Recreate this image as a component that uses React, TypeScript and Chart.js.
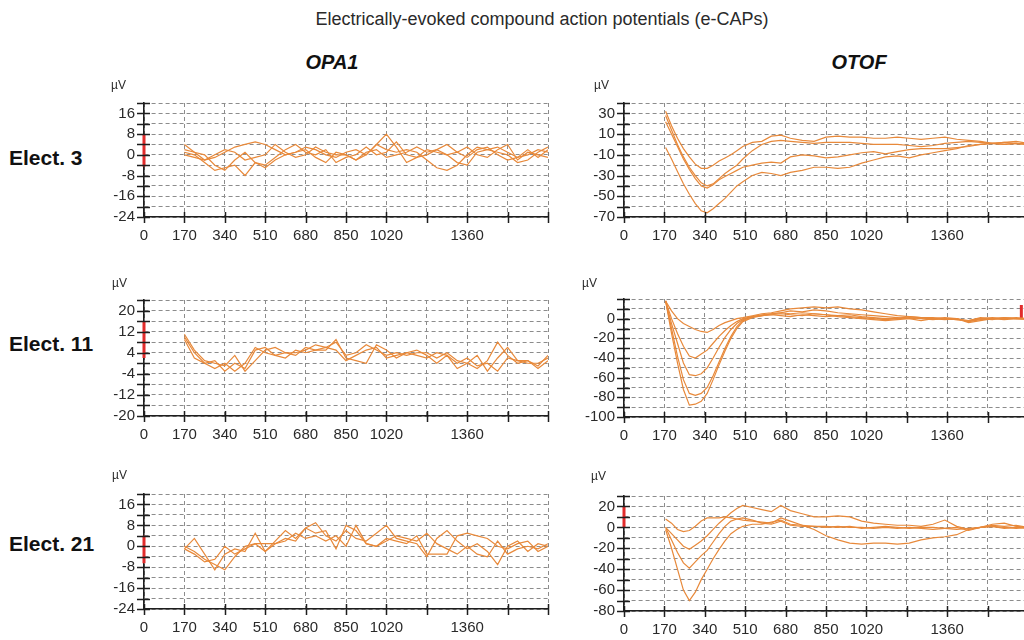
import React, { useEffect, useRef } from "react";
import { Chart, registerables } from "chart.js";

Chart.register(...registerables);

// ---------- data ----------
const TITLE = "Electrically-evoked compound action potentials (e-CAPs)";
const COLUMN_TITLES = ["OPA1", "OTOF"];
const ROW_LABELS = ["Elect. 3", "Elect. 11", "Elect. 21"];
const UNIT = "µV";

const X_LABELED_TICKS = [0, 170, 340, 510, 680, 850, 1020, 1360];

const OPA1_X = [170, 212, 255, 298, 340, 382, 425, 468, 510, 552, 595, 638, 680, 722, 765, 808, 850, 892, 935, 978, 1020, 1062, 1105, 1148, 1190, 1232, 1275, 1318, 1360, 1402, 1445, 1488, 1530, 1572, 1615, 1658, 1700];

const OPA1_E3_A = [4, 1, -2, -1, 1, 3, 4, 5, 4, 2, 0, 1, 3, 2, 0, -1, 1, 2, 0, 4, 8, 3, -3, -1, 2, 1, 0, -3, -4, 1, 2, 3, 1, -1, 0, 2, 1];
const OPA1_E3_B = [1, 0, -3, -6, -5, -4, -8, -3, -5, -2, 0, 1, 2, -1, -3, 1, 0, -2, 0, 4, 2, 1, 2, 1, -2, -5, -6, -4, 0, 3, 2, 1, 0, -3, -2, 1, 3];
const OPA1_E3_C = [0, -1, -2, 0, 2, 1, -2, -1, 0, 4, 1, -1, 0, 3, 1, 0, 0, -2, 1, 2, -1, 0, 1, 3, 1, 2, 4, 1, 3, 0, -1, 2, 4, -2, 1, 0, -1];
const OPA1_E3_D = [2, 1, 0, -4, -6, -2, 1, -3, -4, -1, 2, 4, 1, 0, 2, -3, -1, 0, 3, 0, 1, 5, 0, -1, 0, 2, 0, 1, -1, 2, 3, 0, -2, -1, 2, -1, 2];

const OPA1_E11_A = [11, 5, 1, 0, -1, 3, -3, 1, 5, 6, 4, 4, 5, 7, 6, 8, 3, 4, 7, 5, 3, 4, 3, 4, 4, 2, 4, 1, 0, -2, 1, 8, 3, 0, 1, -1, 3];
const OPA1_E11_B = [9, 2, 0, 1, -3, 0, -2, 5, 6, 3, 2, 5, 4, 5, 6, 5, 1, 3, 5, 6, 2, 3, 4, 5, 3, 0, 3, 0, 2, -1, 0, -3, 2, 1, 0, 0, 2];
const OPA1_E11_C = [10, 4, 0, -2, 0, -3, 0, 6, 4, 3, 4, 3, 6, 5, 5, 9, 2, 1, 0, 7, 5, 2, 4, 3, 2, 4, 3, -2, 0, 3, -3, 2, 6, 1, 1, -2, 1];

const OPA1_E21_A = [-1, 3, -3, -9, -3, -1, -2, 5, -2, 2, 6, 3, 7, 9, 4, 2, 6, 3, 2, 5, 8, 3, 2, 1, -4, 3, 6, 2, -1, 1, -2, -7, 0, 2, -2, 1, 0];
const OPA1_E21_B = [0, -2, -5, -7, -9, -4, 0, 1, 1, 1, 2, 5, 3, 4, 2, 4, 0, 8, 1, 0, 2, 4, 3, 2, 5, 1, -1, -3, 0, -3, -4, 2, -3, -1, 0, -1, 1];
const OPA1_E21_C = [-1, -3, -6, -5, 0, -3, -1, 1, -2, 1, 3, 2, 7, 5, 6, -1, 8, 6, 1, 0, 3, 2, 1, 4, -3, -3, -3, 4, 5, 4, 3, 0, -1, 1, 2, -2, 0];

const OTOF_X = [175, 200, 225, 250, 275, 300, 325, 350, 375, 400, 425, 450, 475, 500, 540, 580, 620, 660, 700, 750, 800, 850, 900, 950, 1000, 1050, 1100, 1150, 1200, 1250, 1300, 1350, 1400, 1450, 1500, 1550, 1600, 1650, 1700];

const OTOF_E3_A = [32, 18, 6, -4, -12, -19, -23, -23, -20, -16, -13, -10, -6, -2, 2, 3, 8, 9, 6, 4, 3, 7, 8, 7, 7, 6, 6, 7, 6, 5, 6, 7, 5, 4, 3, 1, 2, 3, 1];
const OTOF_E3_B = [28, 14, 0, -12, -22, -30, -37, -40, -38, -33, -28, -24, -20, -14, -6, 0, 3, 4, 3, 2, 1, 2, 2, 2, 1, 0, 0, 0, -1, -2, -1, 1, 2, 3, 2, 1, 0, 1, 0];
const OTOF_E3_C = [22, 10, -2, -14, -24, -33, -40, -42, -39, -34, -31, -28, -25, -22, -20, -18, -17, -18, -12, -10, -11, -13, -12, -10, -8, -7, -9, -7, -5, -4, -4, -4, -3, -2, 0, 1, 2, 1, 0];
const OTOF_E3_D = [-3, -14, -26, -38, -48, -57, -64, -66, -62, -57, -52, -46, -40, -36, -30, -27, -28, -30, -27, -25, -22, -22, -23, -22, -18, -15, -12, -11, -13, -10, -8, -6, -4, -1, 0, 1, 0, 1, 0];

const OTOF_E11_A = [18, 8, 0, -5, -8, -11, -13, -14, -11, -7, -4, -2, 0, 1, 3, 5, 6, 8, 10, 11, 12, 11, 12, 10, 9, 7, 5, 3, 2, 1, 1, 0, -1, -2, 0, 1, 0, 0, 0];
const OTOF_E11_B = [18, 0, -15, -28, -38, -40, -36, -32, -25, -18, -12, -7, -3, 0, 2, 4, 5, 6, 8, 7, 9, 8, 6, 5, 4, 3, 2, 1, 0, -2, 0, 1, 0, -3, 0, -1, 1, 0, 0];
const OTOF_E11_C = [18, -5, -25, -45, -57, -58, -56, -50, -40, -29, -19, -11, -5, -1, 2, 3, 4, 5, 4, 3, 5, 4, 3, 4, 2, 1, 0, 0, 2, 1, 0, 0, -1, -2, 1, 0, -1, 0, 0];
const OTOF_E11_D = [18, -10, -38, -62, -76, -78, -76, -70, -58, -44, -30, -18, -8, -2, 2, 3, 4, 3, 2, 4, 3, 2, 3, 2, 1, 0, -1, 0, 1, 0, -1, 0, 0, -3, -1, 0, 0, 1, 0];
const OTOF_E11_E = [18, -15, -45, -72, -88, -87, -84, -76, -62, -47, -33, -20, -10, -3, 1, 3, 5, 6, 5, 6, 5, 4, 2, 1, 0, -1, -2, -1, 0, 1, 0, -1, 0, -4, -2, 0, 1, 0, -1];

const OTOF_E21_A = [8, 4, -2, -4, -3, 1, 6, 9, 9, 9, 10, 9, 8, 7, 6, 5, 4, 9, 6, 2, -2, -8, -12, -15, -16, -15, -15, -16, -15, -12, -10, -9, -7, -2, 0, 2, 1, 2, 0];
const OTOF_E21_B = [0, -6, -12, -18, -21, -17, -13, -8, -2, 4, 9, 14, 18, 21, 19, 17, 15, 21, 16, 13, 10, 10, 11, 10, 6, 4, 3, 2, 2, 1, 3, 7, 1, -2, 0, 3, 4, 1, 0];
const OTOF_E21_C = [0, -12, -24, -34, -39, -33, -27, -22, -14, -6, 1, 6, 8, 9, 7, 4, 3, 6, 2, 1, 1, 0, 1, 0, 0, -1, 0, -1, 0, -1, -2, -1, 0, -3, 0, 1, -1, 0, -1];
const OTOF_E21_D = [-2, -20, -40, -60, -70, -62, -50, -40, -30, -21, -13, -6, -2, 1, 3, 3, 5, 7, 3, 2, 1, 1, 0, 1, -1, 0, 1, 0, -1, 0, 0, -1, -2, -1, 0, 1, 0, -1, 0];

// calibration marks: [x, yStart, yEnd]
const CAL_OPA1_E3 = [0, 8, -4.5];
const CAL_OPA1_E11 = [0, 16, 2];
const CAL_OPA1_E21 = [0, 4, -6.5];
const CAL_OTOF_E11 = [1672, 14, 0];
const CAL_OTOF_E21 = [0, 20, 0];

// y-axis: [min, max, step]
const Y_OPA1_E3 = [-24, 20, 4];
const Y_OPA1_E11 = [-20, 24, 4];
const Y_OPA1_E21 = [-24, 20, 4];
const Y_OTOF_E3 = [-70, 40, 10];
const Y_OTOF_E11 = [-100, 20, 10];
const Y_OTOF_E21 = [-80, 30, 10];

const YL_OPA1_E3 = [-24, -16, -8, 0, 8, 16];
const YL_OPA1_E11 = [-20, -12, -4, 4, 12, 20];
const YL_OPA1_E21 = [-24, -16, -8, 0, 8, 16];
const YL_OTOF_E3 = [-70, -50, -30, -10, 10, 30];
const YL_OTOF_E11 = [-100, -80, -60, -40, -20, 0];
const YL_OTOF_E21 = [-80, -60, -40, -20, 0, 20];

// ---------- styles ----------
const FONT = "'Liberation Sans', Arial, Helvetica, sans-serif";
const LINE_COLOR = "#E8893A";
const CAL_COLOR = "#E22B2B";
const GRID_COLOR = "#8c8c8c";
const AXIS_COLOR = "#1e1e1e";
const TEXT_COLOR = "#2a2a2a";

type PanelCfg = {
  left: number; top: number; width: number; height: number;
  axisWidth: number; padRight: number;
  xs: number[]; series: number[][];
  y: number[]; yLabels: number[]; cal?: number[];
};

const PAD_TOP = 10;
const X_AXIS_H = 30;

const PANELS: PanelCfg[] = [
  { left: 100, top: 85, width: 460, height: 162, axisWidth: 44, padRight: 12, xs: OPA1_X, series: [OPA1_E3_A, OPA1_E3_B, OPA1_E3_C, OPA1_E3_D], y: Y_OPA1_E3, yLabels: YL_OPA1_E3, cal: CAL_OPA1_E3 },
  { left: 570, top: 85, width: 470, height: 162, axisWidth: 54, padRight: 12, xs: OTOF_X, series: [OTOF_E3_A, OTOF_E3_B, OTOF_E3_C, OTOF_E3_D], y: Y_OTOF_E3, yLabels: YL_OTOF_E3 },
  { left: 100, top: 282, width: 460, height: 164, axisWidth: 44, padRight: 12, xs: OPA1_X, series: [OPA1_E11_A, OPA1_E11_B, OPA1_E11_C], y: Y_OPA1_E11, yLabels: YL_OPA1_E11, cal: CAL_OPA1_E11 },
  { left: 570, top: 281, width: 470, height: 166, axisWidth: 54, padRight: 12, xs: OTOF_X, series: [OTOF_E11_A, OTOF_E11_B, OTOF_E11_C, OTOF_E11_D, OTOF_E11_E], y: Y_OTOF_E11, yLabels: YL_OTOF_E11, cal: CAL_OTOF_E11 },
  { left: 100, top: 476, width: 460, height: 163, axisWidth: 44, padRight: 12, xs: OPA1_X, series: [OPA1_E21_A, OPA1_E21_B, OPA1_E21_C], y: Y_OPA1_E21, yLabels: YL_OPA1_E21, cal: CAL_OPA1_E21 },
  { left: 570, top: 478, width: 470, height: 163, axisWidth: 54, padRight: 12, xs: OTOF_X, series: [OTOF_E21_A, OTOF_E21_B, OTOF_E21_C, OTOF_E21_D], y: Y_OTOF_E21, yLabels: YL_OTOF_E21, cal: CAL_OTOF_E21 },
];

const tickMarks = {
  id: "tickMarks",
  afterDatasetsDraw(chart: any) {
    const { ctx, chartArea, scales } = chart;
    const xs = scales.x, ys = scales.y;
    ctx.save();
    ctx.strokeStyle = AXIS_COLOR;
    ctx.lineWidth = 1.5;
    ctx.beginPath();
    ys.ticks.forEach((t: any) => {
      const py = Math.round(ys.getPixelForValue(t.value)) + 0.5;
      ctx.moveTo(chartArea.left - 7, py);
      ctx.lineTo(chartArea.left + 6, py);
    });
    xs.ticks.forEach((t: any) => {
      const px = Math.round(xs.getPixelForValue(t.value)) + 0.5;
      ctx.moveTo(px, chartArea.bottom - 5);
      ctx.lineTo(px, chartArea.bottom + 6);
    });
    ctx.stroke();
    ctx.restore();
  },
};

function Panel({ p }: { p: PanelCfg }) {
  const ref = useRef<HTMLCanvasElement | null>(null);
  useEffect(() => {
    if (!ref.current) return;
    const datasets: any[] = p.series.map((ys) => ({
      data: p.xs.map((x, i) => ({ x, y: ys[i] })),
      borderColor: LINE_COLOR,
      borderWidth: 1.2,
      pointRadius: 0,
      tension: 0,
      fill: false,
    }));
    if (p.cal) {
      datasets.push({
        data: [{ x: p.cal[0], y: p.cal[1] }, { x: p.cal[0], y: p.cal[2] }],
        borderColor: CAL_COLOR,
        borderWidth: 3,
        pointRadius: 0,
        clip: false,
      });
    }
    const tickFont = { family: FONT, size: 15 };
    const chart = new Chart(ref.current, {
      type: "line",
      data: { datasets },
      options: {
        animation: false,
        responsive: false,
        devicePixelRatio: 1,
        layout: { padding: { top: PAD_TOP, right: p.padRight, left: 0, bottom: 0 } },
        plugins: { legend: { display: false }, tooltip: { enabled: false } },
        scales: {
          x: {
            type: "linear",
            min: 0,
            max: 1700,
            ticks: {
              stepSize: 170,
              autoSkip: false,
              maxRotation: 0,
              padding: 10,
              color: TEXT_COLOR,
              font: tickFont,
              callback: (v: any) => (X_LABELED_TICKS.includes(Math.round(v)) ? String(Math.round(v)) : ""),
            },
            grid: { color: GRID_COLOR, lineWidth: 1, drawTicks: false },
            border: { display: true, color: AXIS_COLOR, width: 1.6, dash: [4, 3] },
            afterFit: (s: any) => { s.height = X_AXIS_H; },
          },
          y: {
            type: "linear",
            min: p.y[0],
            max: p.y[1],
            ticks: {
              stepSize: p.y[2],
              autoSkip: false,
              padding: 9,
              color: TEXT_COLOR,
              font: tickFont,
              callback: (v: any) => (p.yLabels.includes(Math.round(v)) ? String(Math.round(v)) : ""),
            },
            grid: { color: GRID_COLOR, lineWidth: 1, drawTicks: false },
            border: { display: true, color: AXIS_COLOR, width: 1.6, dash: [4, 3] },
            afterFit: (s: any) => { s.width = p.axisWidth; },
          },
        },
      } as any,
      plugins: [tickMarks],
    });
    return () => chart.destroy();
  }, [p]);
  return (
    <canvas
      ref={ref}
      width={p.width}
      height={p.height}
      style={{ position: "absolute", left: p.left, top: p.top, width: p.width, height: p.height }}
    />
  );
}

const ROW_Y = [157, 343, 543];
const UNIT_POS = [
  [111, 85], [594, 85],
  [112, 283], [582, 283],
  [112, 475], [591, 476],
];

export default function App() {
  const abs = (x: number, y: number, extra: any = {}) => ({
    position: "absolute" as const, left: x, top: y, lineHeight: 1, whiteSpace: "nowrap" as const, ...extra,
  });
  return (
    <div style={{ position: "fixed", left: 0, top: 0, width: 1024, height: 640, overflow: "hidden", background: "#fff", fontFamily: FONT, color: TEXT_COLOR }}>
      {PANELS.map((p, i) => <Panel key={i} p={p} />)}
      <div style={abs(542, 19, { transform: "translate(-50%,-50%)", fontSize: 18 })}>{TITLE}</div>
      <div style={abs(332, 62, { transform: "translate(-50%,-50%)", fontSize: 20, fontWeight: "bold", fontStyle: "italic", color: "#111" })}>{COLUMN_TITLES[0]}</div>
      <div style={abs(859, 62, { transform: "translate(-50%,-50%)", fontSize: 20, fontWeight: "bold", fontStyle: "italic", color: "#111" })}>{COLUMN_TITLES[1]}</div>
      {ROW_LABELS.map((t, i) => (
        <div key={t} style={abs(9, ROW_Y[i], { transform: "translateY(-50%)", fontSize: 21, fontWeight: "bold", color: "#111" })}>{t}</div>
      ))}
      {UNIT_POS.map(([x, y], i) => (
        <div key={i} style={abs(x, y, { transform: "translateY(-50%)", fontSize: 12 })}>{UNIT}</div>
      ))}
    </div>
  );
}
